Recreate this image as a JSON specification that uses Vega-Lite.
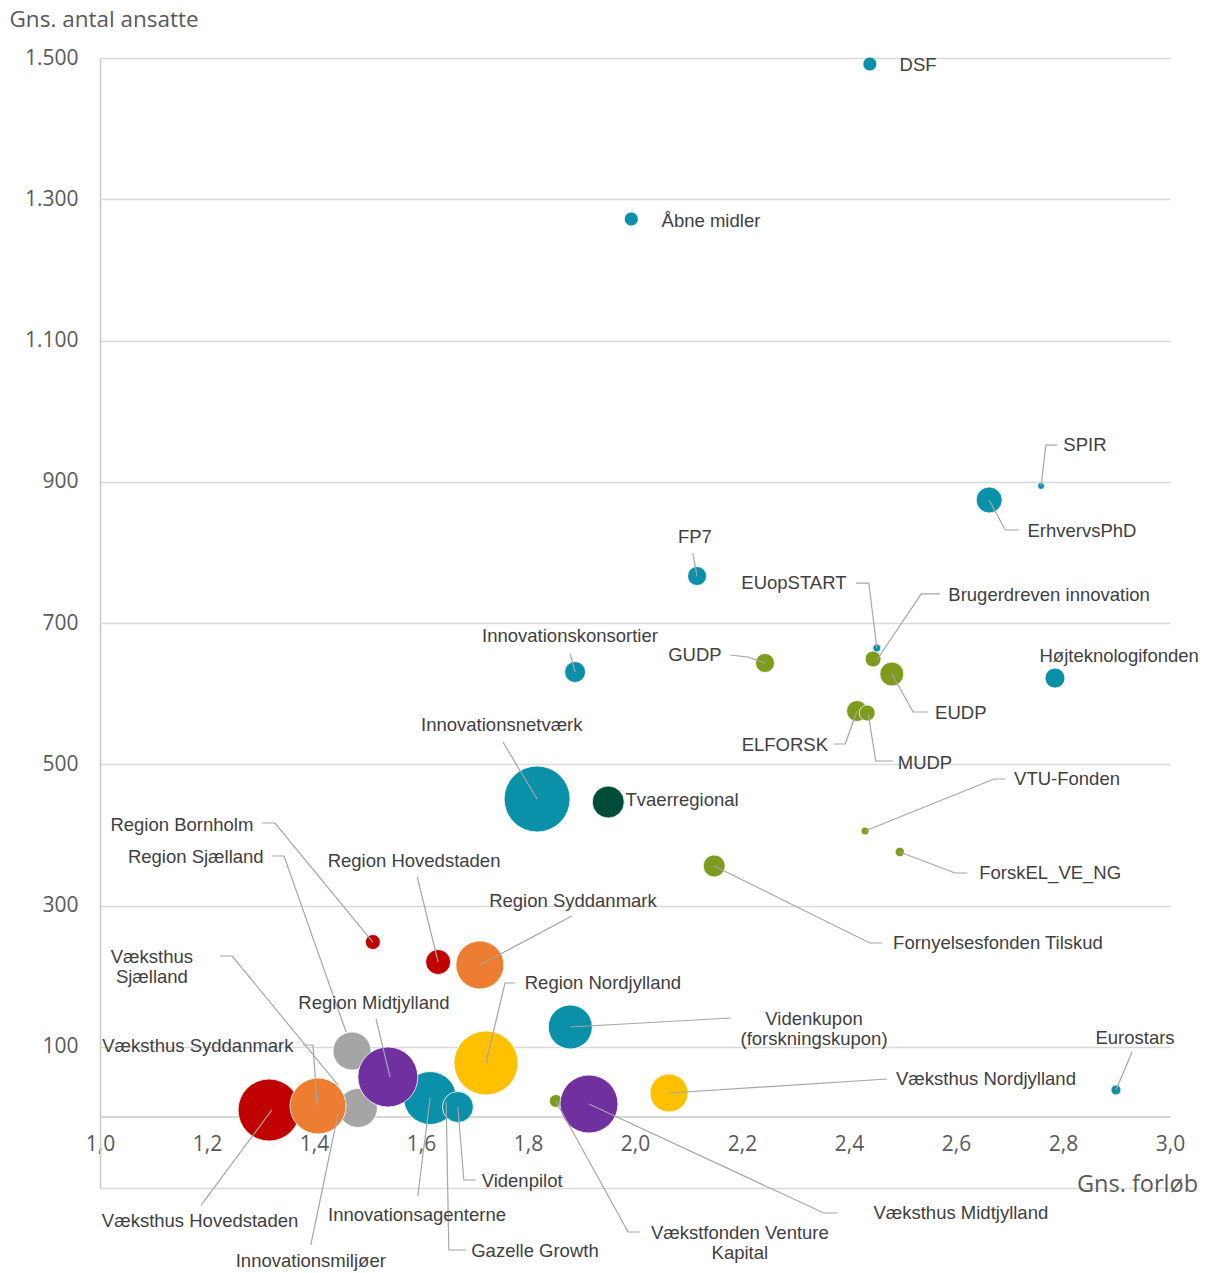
{
  "$schema": "https://vega.github.io/schema/vega-lite/v6.json",
  "width": 1070,
  "height": 1130,
  "autosize": "none",
  "padding": {"left": 100, "top": 58, "right": 36, "bottom": 85},
  "background": "white",
  "config": {"view": {"stroke": null}},
  "datasets": {
    "bobler": [
      {"navn": "Innovationsmiljøer", "gruppe": "national", "forløb": 1.445, "ansatte": 4.8, "omfang": 36, "lx": 1.394, "ly": -203.4},
      {"navn": "Gazelle  Growth", "gruppe": "national", "forløb": 1.647, "ansatte": 21.8, "omfang": 100, "lx": 1.813, "ly": -189.2},
      {"navn": "Region Sjælland", "gruppe": "Sjælland", "forløb": 1.471, "ansatte": 94, "omfang": 361, "lx": 1.179, "ly": 368.7},
      {"navn": "Væksthus\nSjælland", "gruppe": "Sjælland", "forløb": 1.482, "ansatte": 13.3, "omfang": 380, "lx": 1.097, "ly": 227},
      {"navn": "Væksthus Hovedstaden", "gruppe": "Hovedstaden", "forløb": 1.316, "ansatte": 10.4, "omfang": 961, "lx": 1.187, "ly": -146.7},
      {"navn": "Væksthus Syddanmark", "gruppe": "Syddanmark", "forløb": 1.4075, "ansatte": 16.1, "omfang": 784, "lx": 1.183, "ly": 101},
      {"navn": "Innovationsagenterne", "gruppe": "national", "forløb": 1.617, "ansatte": 27.4, "omfang": 700, "lx": 1.5925, "ly": -138.2},
      {"navn": "Videnpilot", "gruppe": "national", "forløb": 1.669, "ansatte": 14.7, "omfang": 240, "lx": 1.789, "ly": -90.1},
      {"navn": "Region Midtjylland", "gruppe": "Midtjylland", "forløb": 1.538, "ansatte": 57.2, "omfang": 900, "lx": 1.512, "ly": 162},
      {"navn": "Region Nordjylland", "gruppe": "Nordjylland", "forløb": 1.7215, "ansatte": 77, "omfang": 1024, "lx": 1.94, "ly": 190.3},
      {"navn": "Vækstfonden Venture\nKapital", "gruppe": "grøn", "forløb": 1.852, "ansatte": 23.2, "omfang": 42, "lx": 2.196, "ly": -163.7},
      {"navn": "Væksthus Midtjylland", "gruppe": "Midtjylland", "forløb": 1.914, "ansatte": 18.9, "omfang": 841, "lx": 2.609, "ly": -135.4},
      {"navn": "Væksthus Nordjylland", "gruppe": "Nordjylland", "forløb": 2.0636, "ansatte": 34.5, "omfang": 361, "lx": 2.656, "ly": 54.3},
      {"navn": "Videnkupon\n(forskningskupon)", "gruppe": "national", "forløb": 1.879, "ansatte": 128, "omfang": 484, "lx": 2.3346, "ly": 139.3},
      {"navn": "Eurostars", "gruppe": "national", "forløb": 2.899, "ansatte": 38.8, "omfang": 25, "lx": 2.9346, "ly": 112.4},
      {"navn": "Region Bornholm", "gruppe": "Hovedstaden", "forløb": 1.51, "ansatte": 248.3, "omfang": 56, "lx": 1.153, "ly": 414},
      {"navn": "Region Hovedstaden", "gruppe": "Hovedstaden", "forløb": 1.632, "ansatte": 220, "omfang": 156, "lx": 1.587, "ly": 363},
      {"navn": "Region Syddanmark", "gruppe": "Syddanmark", "forløb": 1.71, "ansatte": 215.8, "omfang": 576, "lx": 1.884, "ly": 306.4},
      {"navn": "Fornyelsesfonden Tilskud", "gruppe": "grøn", "forløb": 2.148, "ansatte": 356, "omfang": 121, "lx": 2.6785, "ly": 246.9},
      {"navn": "ForskEL_VE_NG", "gruppe": "grøn", "forløb": 2.495, "ansatte": 375.8, "omfang": 22, "lx": 2.776, "ly": 346},
      {"navn": "VTU-Fonden", "gruppe": "grøn", "forløb": 2.43, "ansatte": 405.5, "omfang": 16, "lx": 2.8075, "ly": 479.1},
      {"navn": "Innovationsnetværk", "gruppe": "national", "forløb": 1.817, "ansatte": 450.8, "omfang": 1089, "lx": 1.751, "ly": 555.6},
      {"navn": "Tvaerregional", "gruppe": "tværregional", "forløb": 1.95, "ansatte": 446.5, "omfang": 256, "lx": 2.088, "ly": 449.4},
      {"navn": "ELFORSK", "gruppe": "grøn", "forløb": 2.415, "ansatte": 575.4, "omfang": 110, "lx": 2.28, "ly": 527.3},
      {"navn": "MUDP", "gruppe": "grøn", "forløb": 2.434, "ansatte": 572.6, "omfang": 64, "lx": 2.542, "ly": 501.8},
      {"navn": "EUDP", "gruppe": "grøn", "forløb": 2.48, "ansatte": 627.8, "omfang": 144, "lx": 2.609, "ly": 572.6},
      {"navn": "Brugerdreven innovation", "gruppe": "grøn", "forløb": 2.445, "ansatte": 649, "omfang": 64, "lx": 2.774, "ly": 739.6},
      {"navn": "EUopSTART", "gruppe": "national", "forløb": 2.452, "ansatte": 664.6, "omfang": 16, "lx": 2.297, "ly": 756.6},
      {"navn": "GUDP", "gruppe": "grøn", "forløb": 2.243, "ansatte": 643.4, "omfang": 90, "lx": 2.112, "ly": 654.7},
      {"navn": "Innovationskonsortier", "gruppe": "national", "forløb": 1.888, "ansatte": 630.6, "omfang": 110, "lx": 1.8785, "ly": 681.6},
      {"navn": "Højteknologifonden", "gruppe": "national", "forløb": 2.785, "ansatte": 622, "omfang": 100, "lx": 2.905, "ly": 653.3},
      {"navn": "FP7", "gruppe": "national", "forløb": 2.116, "ansatte": 766.5, "omfang": 90, "lx": 2.112, "ly": 821.8},
      {"navn": "ErhvervsPhD", "gruppe": "national", "forløb": 2.662, "ansatte": 874.2, "omfang": 169, "lx": 2.8355, "ly": 830.3},
      {"navn": "SPIR", "gruppe": "national", "forløb": 2.759, "ansatte": 894, "omfang": 12, "lx": 2.841, "ly": 952},
      {"navn": "Åbne midler", "gruppe": "national", "forløb": 1.993, "ansatte": 1272, "omfang": 49, "lx": 2.142, "ly": 1269.2},
      {"navn": "DSF", "gruppe": "national", "forløb": 2.439, "ansatte": 1491.5, "omfang": 49, "lx": 2.529, "ly": 1490}
    ],
    "ledere": [
      {"navn": "SPIR", "i": 0, "x": 2.789, "y": 952.0}, {"navn": "SPIR", "i": 1, "x": 2.768, "y": 952.0}, {"navn": "SPIR", "i": 2, "x": 2.759, "y": 894.0},
      {"navn": "ErhvervsPhD", "i": 0, "x": 2.718, "y": 831.7}, {"navn": "ErhvervsPhD", "i": 1, "x": 2.692, "y": 831.7}, {"navn": "ErhvervsPhD", "i": 2, "x": 2.662, "y": 874.2},
      {"navn": "FP7", "i": 0, "x": 2.108, "y": 799.1}, {"navn": "FP7", "i": 1, "x": 2.116, "y": 766.5},
      {"navn": "EUopSTART", "i": 0, "x": 2.413, "y": 756.6}, {"navn": "EUopSTART", "i": 1, "x": 2.437, "y": 756.6}, {"navn": "EUopSTART", "i": 2, "x": 2.452, "y": 664.6},
      {"navn": "Brugerdreven innovation", "i": 0, "x": 2.57, "y": 741.1}, {"navn": "Brugerdreven innovation", "i": 1, "x": 2.535, "y": 741.1}, {"navn": "Brugerdreven innovation", "i": 2, "x": 2.452, "y": 647.6},
      {"navn": "EUDP", "i": 0, "x": 2.548, "y": 574.0}, {"navn": "EUDP", "i": 1, "x": 2.52, "y": 574.0}, {"navn": "EUDP", "i": 2, "x": 2.48, "y": 627.8},
      {"navn": "GUDP", "i": 0, "x": 2.178, "y": 654.7}, {"navn": "GUDP", "i": 1, "x": 2.211, "y": 651.9}, {"navn": "GUDP", "i": 2, "x": 2.243, "y": 643.4},
      {"navn": "Innovationskonsortier", "i": 0, "x": 1.879, "y": 656.1}, {"navn": "Innovationskonsortier", "i": 1, "x": 1.888, "y": 630.6},
      {"navn": "ELFORSK", "i": 0, "x": 2.372, "y": 528.7}, {"navn": "ELFORSK", "i": 1, "x": 2.393, "y": 528.7}, {"navn": "ELFORSK", "i": 2, "x": 2.415, "y": 575.4},
      {"navn": "MUDP", "i": 0, "x": 2.482, "y": 504.6}, {"navn": "MUDP", "i": 1, "x": 2.45, "y": 504.6}, {"navn": "MUDP", "i": 2, "x": 2.436, "y": 571.1},
      {"navn": "Innovationsnetværk", "i": 0, "x": 1.753, "y": 531.5}, {"navn": "Innovationsnetværk", "i": 1, "x": 1.817, "y": 450.8},
      {"navn": "VTU-Fonden", "i": 0, "x": 2.692, "y": 479.1}, {"navn": "VTU-Fonden", "i": 1, "x": 2.671, "y": 479.1}, {"navn": "VTU-Fonden", "i": 2, "x": 2.43, "y": 405.5},
      {"navn": "ForskEL_VE_NG", "i": 0, "x": 2.621, "y": 346.0}, {"navn": "ForskEL_VE_NG", "i": 1, "x": 2.598, "y": 346.0}, {"navn": "ForskEL_VE_NG", "i": 2, "x": 2.495, "y": 375.8},
      {"navn": "Fornyelsesfonden Tilskud", "i": 0, "x": 2.462, "y": 246.9}, {"navn": "Fornyelsesfonden Tilskud", "i": 1, "x": 2.439, "y": 246.9}, {"navn": "Fornyelsesfonden Tilskud", "i": 2, "x": 2.148, "y": 356},
      {"navn": "Region Bornholm", "i": 0, "x": 1.303, "y": 416.8}, {"navn": "Region Bornholm", "i": 1, "x": 1.327, "y": 416.8}, {"navn": "Region Bornholm", "i": 2, "x": 1.51, "y": 248.3},
      {"navn": "Region Sjælland", "i": 0, "x": 1.321, "y": 370.1}, {"navn": "Region Sjælland", "i": 1, "x": 1.344, "y": 370.1}, {"navn": "Region Sjælland", "i": 2, "x": 1.46, "y": 120.9},
      {"navn": "Region Hovedstaden", "i": 0, "x": 1.593, "y": 340.4}, {"navn": "Region Hovedstaden", "i": 1, "x": 1.632, "y": 220},
      {"navn": "Region Syddanmark", "i": 0, "x": 1.882, "y": 285.1}, {"navn": "Region Syddanmark", "i": 1, "x": 1.71, "y": 215.8},
      {"navn": "Region Nordjylland", "i": 0, "x": 1.776, "y": 190.3}, {"navn": "Region Nordjylland", "i": 1, "x": 1.757, "y": 190.3}, {"navn": "Region Nordjylland", "i": 2, "x": 1.7215, "y": 77},
      {"navn": "Region Midtjylland", "i": 0, "x": 1.516, "y": 139.3}, {"navn": "Region Midtjylland", "i": 1, "x": 1.542, "y": 57.2},
      {"navn": "Videnkupon", "i": 0, "x": 2.179, "y": 140.7}, {"navn": "Videnkupon", "i": 1, "x": 1.879, "y": 128},
      {"navn": "Væksthus Nordjylland", "i": 0, "x": 2.471, "y": 54.3}, {"navn": "Væksthus Nordjylland", "i": 1, "x": 2.0636, "y": 34.5},
      {"navn": "Eurostars", "i": 0, "x": 2.929, "y": 92.6}, {"navn": "Eurostars", "i": 1, "x": 2.899, "y": 38.8},
      {"navn": "Væksthus Syddanmark", "i": 0, "x": 1.379, "y": 102.5}, {"navn": "Væksthus Syddanmark", "i": 1, "x": 1.398, "y": 102.5}, {"navn": "Væksthus Syddanmark", "i": 2, "x": 1.406, "y": 16.1},
      {"navn": "Væksthus Sjælland", "i": 0, "x": 1.224, "y": 228.5}, {"navn": "Væksthus Sjælland", "i": 1, "x": 1.247, "y": 228.5}, {"navn": "Væksthus Sjælland", "i": 2, "x": 1.445, "y": 45.8},
      {"navn": "Væksthus Hovedstaden", "i": 0, "x": 1.189, "y": -124.1}, {"navn": "Væksthus Hovedstaden", "i": 1, "x": 1.321, "y": 10.4},
      {"navn": "Innovationsmiljøer", "i": 0, "x": 1.394, "y": -180.7}, {"navn": "Innovationsmiljøer", "i": 1, "x": 1.445, "y": 4.8},
      {"navn": "Innovationsagenterne", "i": 0, "x": 1.594, "y": -111.3}, {"navn": "Innovationsagenterne", "i": 1, "x": 1.617, "y": 27.4},
      {"navn": "Gazelle Growth", "i": 0, "x": 1.684, "y": -187.8}, {"navn": "Gazelle Growth", "i": 1, "x": 1.652, "y": -187.8}, {"navn": "Gazelle Growth", "i": 2, "x": 1.647, "y": 21.8},
      {"navn": "Videnpilot", "i": 0, "x": 1.703, "y": -88.7}, {"navn": "Videnpilot", "i": 1, "x": 1.68, "y": -88.7}, {"navn": "Videnpilot", "i": 2, "x": 1.669, "y": 14.7},
      {"navn": "Vækstfonden", "i": 0, "x": 2.009, "y": -162.3}, {"navn": "Vækstfonden", "i": 1, "x": 1.987, "y": -162.3}, {"navn": "Vækstfonden", "i": 2, "x": 1.852, "y": 23.2},
      {"navn": "Væksthus Midtjylland", "i": 0, "x": 2.379, "y": -135.4}, {"navn": "Væksthus Midtjylland", "i": 1, "x": 2.353, "y": -135.4}, {"navn": "Væksthus Midtjylland", "i": 2, "x": 1.914, "y": 18.9}
    ]
  },
  "layer": [
    {
      "data": {"name": "bobler"},
      "mark": {"type": "circle", "opacity": 1, "stroke": "white", "strokeWidth": 0.8},
      "encoding": {
        "x": {
          "field": "forløb", "type": "quantitative", "title": "Gns. forløb",
          "scale": {"domain": [1, 3], "nice": false, "zero": false},
          "axis": {
            "titleFont": "Open Sans", "titleFontSize": 23.5, "titleFontWeight": "normal", "titleColor": "#595959",
            "titleX": 1037, "titleY": 68, "titleAlign": "center", "titleBaseline": "middle", "titleAnchor": null,
            "offset": -71.4,
            "values": [1, 1.2, 1.4, 1.6, 1.8, 2, 2.2, 2.4, 2.6, 2.8, 3],
            "labelExpr": "replace(format(datum.value, '.1f'), '.', ',')",
            "labelFont": "Open Sans", "labelFontSize": 21, "labelColor": "#595959",
            "labelPadding": 17, "labelFlush": false, "labelOverlap": false,
            "ticks": false, "grid": false,
            "domainColor": "#C8C8C8", "domainWidth": 1.5
          }
        },
        "y": {
          "field": "ansatte", "type": "quantitative", "title": "Gns. antal ansatte",
          "scale": {"domain": [-100, 1500], "nice": false, "zero": false},
          "axis": {
            "titleFont": "Open Sans", "titleFontSize": 22.5, "titleFontWeight": "normal", "titleColor": "#595959",
            "titleAngle": 0, "titleX": -91, "titleY": -39, "titleAlign": "left", "titleBaseline": "middle", "titleAnchor": null,
            "values": [-100, 100, 300, 500, 700, 900, 1100, 1300, 1500],
            "labelExpr": "datum.value < 0 ? '' : replace(format(datum.value, ','), ',', '.')",
            "labelFont": "Open Sans", "labelFontSize": 21, "labelColor": "#595959",
            "labelPadding": 22, "labelOverlap": false,
            "ticks": false, "grid": true, "gridColor": "#D9D9D9", "gridWidth": 1.5,
            "domainColor": "#C8C8C8", "domainWidth": 1.5
          }
        },
        "size": {"field": "omfang", "type": "quantitative", "scale": {"type": "linear", "domain": [0, 1000], "range": [0, 4000], "zero": true}, "legend": null},
        "color": {
          "field": "gruppe", "type": "nominal", "legend": null,
          "scale": {
            "domain": ["national", "grøn", "tværregional", "Hovedstaden", "Sjælland", "Syddanmark", "Midtjylland", "Nordjylland"],
            "range": ["#0A90A8", "#7E9B1E", "#004C3A", "#C00000", "#A5A5A5", "#ED7D31", "#7030A0", "#FFC000"]
          }
        }
      }
    },
    {
      "data": {"name": "ledere"},
      "mark": {"type": "line", "color": "#A6A6A6", "strokeWidth": 1.2, "clip": false},
      "encoding": {
        "x": {"field": "x", "type": "quantitative", "title": "Gns. forløb", "scale": {"domain": [1, 3], "nice": false, "zero": false}},
        "y": {"field": "y", "type": "quantitative", "title": "Gns. antal ansatte", "scale": {"domain": [-100, 1500], "nice": false, "zero": false}},
        "detail": {"field": "navn", "type": "nominal"},
        "order": {"field": "i", "type": "quantitative"}
      }
    },
    {
      "data": {"name": "bobler"},
      "mark": {"type": "text", "font": "Liberation Sans", "fontSize": 18.5, "color": "#404040", "align": "center", "baseline": "middle", "lineBreak": "\n", "lineHeight": 20},
      "encoding": {
        "x": {"field": "lx", "type": "quantitative", "title": "Gns. forløb", "scale": {"domain": [1, 3], "nice": false, "zero": false}},
        "y": {"field": "ly", "type": "quantitative", "title": "Gns. antal ansatte", "scale": {"domain": [-100, 1500], "nice": false, "zero": false}},
        "text": {"field": "navn", "type": "nominal"}
      }
    }
  ]
}
